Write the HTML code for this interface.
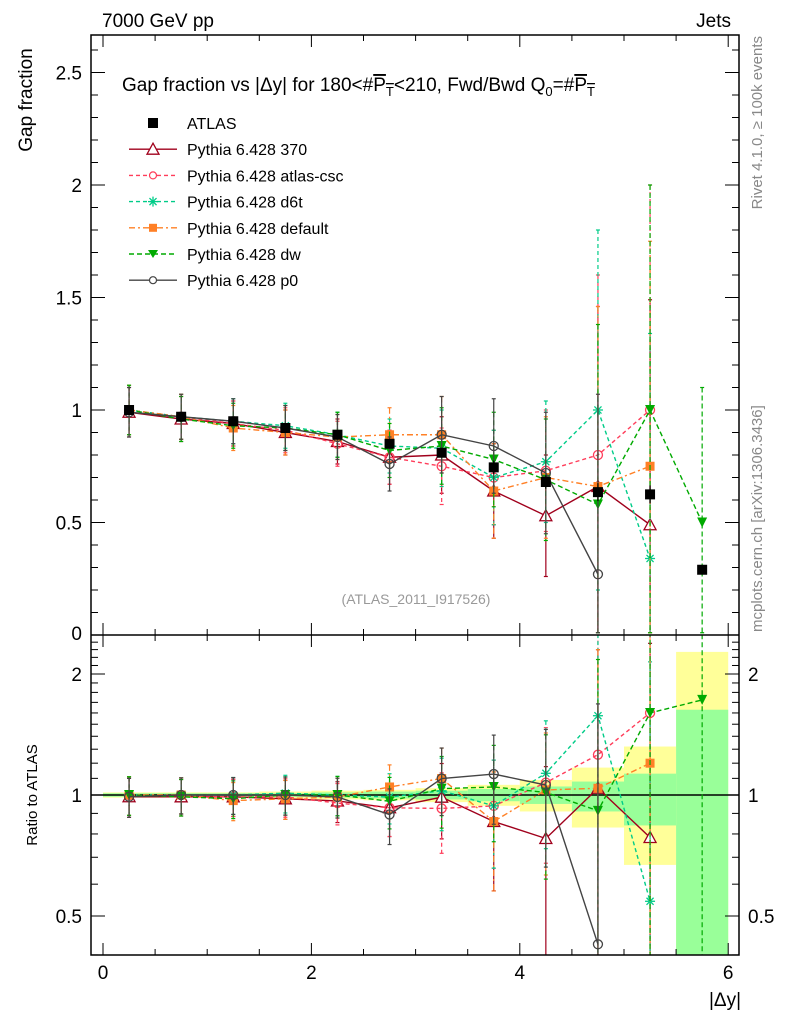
<!DOCTYPE html>
<html><head><meta charset="utf-8"><style>
html,body{margin:0;padding:0;background:#fff;overflow:hidden;width:786px;height:1024px;}
svg{display:block;font-family:"Liberation Sans",sans-serif;}
</style></head><body>
<svg id="chart" width="786" height="1024" viewBox="0 0 786 1024">
<defs>
<clipPath id="clipMain"><rect x="91" y="35" width="648" height="600"/></clipPath>
<clipPath id="clipRatio"><rect x="91" y="635" width="648" height="320"/></clipPath>
</defs>
<g id="bands" clip-path="url(#clipRatio)"></g>
<g id="marks"></g>
<g id="axes"></g>
<text x="102" y="27" font-size="19">7000 GeV pp</text>
<text x="731" y="27" font-size="19" text-anchor="end">Jets</text>
<text x="122" y="91" font-size="19">Gap fraction vs |Δy| for 180&lt;#<tspan text-decoration="overline">P<tspan font-size="13" dy="5">T</tspan></tspan><tspan dy="-5">&lt;210, Fwd/Bwd Q</tspan><tspan font-size="13" dy="5">0</tspan><tspan dy="-5">=#</tspan><tspan text-decoration="overline">P<tspan font-size="13" dy="5">T</tspan></tspan></text>
<text transform="translate(32,100) rotate(-90)" font-size="19" text-anchor="middle">Gap fraction</text>
<text transform="translate(37,795) rotate(-90)" font-size="15" text-anchor="middle">Ratio to ATLAS</text>
<text x="741" y="1006" font-size="19" text-anchor="end">|Δy|</text>
<text transform="translate(762,36) rotate(-90)" font-size="15" fill="#888" text-anchor="end">Rivet 4.1.0, ≥ 100k events</text>
<text transform="translate(762,632) rotate(-90)" font-size="15" fill="#888">mcplots.cern.ch [arXiv:1306.3436]</text>
<text x="416" y="604" font-size="14" fill="#999" text-anchor="middle">(ATLAS_2011_I917526)</text>
<g id="legend"></g>
</svg>
<script>
const xCenters=[0.25,0.75,1.25,1.75,2.25,2.75,3.25,3.75,4.25,4.75,5.25,5.75];
const atlasVals=[1.0,0.97,0.95,0.92,0.89,0.85,0.81,0.745,0.68,0.635,0.625,0.29];
const atlasErr=[0.02,0.02,0.02,0.02,0.02,0.02,0.02,0.03,0.03,0.04,0.04,0.02];
const bandYellowLo=[0.985,0.985,0.985,0.98,0.975,0.97,0.96,0.94,0.91,0.83,0.67,0.3];
const bandYellowHi=[1.015,1.015,1.015,1.02,1.025,1.03,1.04,1.06,1.09,1.17,1.32,2.27];
const bandGreenLo=[0.99,0.99,0.99,0.99,0.985,0.98,0.975,0.965,0.95,0.91,0.84,0.3];
const bandGreenHi=[1.01,1.01,1.01,1.01,1.015,1.02,1.025,1.035,1.05,1.08,1.13,1.63];
const v370=[0.99,0.96,0.94,0.90,0.86,0.79,0.80,0.64,0.53,0.66,0.49];
const vCsc=[1.0,0.97,0.94,0.91,0.85,0.79,0.75,0.70,0.73,0.80,1.0];
const vD6t=[1.0,0.97,0.95,0.93,0.89,0.84,0.83,0.70,0.77,1.0,0.34];
const vDef=[1.0,0.97,0.92,0.90,0.88,0.89,0.89,0.64,0.70,0.66,0.75];
const vDw=[1.0,0.96,0.93,0.92,0.89,0.82,0.84,0.78,0.69,0.58,1.0,0.5];
const vP0=[0.99,0.97,0.95,0.92,0.88,0.76,0.89,0.84,0.72,0.27];
const mcErr=[0.11,0.1,0.1,0.1,0.1,0.12,0.17,0.21,0.27,0.8,1.0,0.6];
const xTicks=[0,2,4,6];
const yTicks=[0.5,1,1.5,2,2.5];
const rTicks=[0.5,1,2];

const NS="http://www.w3.org/2000/svg";
const X=v=>103+104.2*v;
const Y=v=>635-225*v;
const R=v=>795-121*Math.log2(Math.max(v,0.01));
function mk(tag,attrs,parent){const e=document.createElementNS(NS,tag);for(const k in attrs)e.setAttribute(k,attrs[k]);parent.appendChild(e);return e;}
const bands=document.getElementById('bands');
const marks=document.getElementById('marks');
const axes=document.getElementById('axes');
const legend=document.getElementById('legend');

xCenters.forEach((c,i)=>{
 let r=mk('rect',{x:X(c-0.25),y:R(bandYellowHi[i]),width:X(0.5)-X(0),height:R(bandYellowLo[i])-R(bandYellowHi[i]),fill:'#ffff99'},bands);
 
 
 let g=mk('rect',{x:X(c-0.25),y:R(bandGreenHi[i]),width:X(0.5)-X(0),height:R(bandGreenLo[i])-R(bandGreenHi[i]),fill:'#99ff99'},bands);
 
 
});
let ln=mk('line',{x1:91,x2:739,y1:R(1),y2:R(1),stroke:'#000','stroke-width':1.5},bands);



function marker(g,type,x,y,color){
 const s=5;
 if(type==='tri') mk('path',{d:`M${x},${y-6}L${x+6},${y+5}L${x-6},${y+5}Z`,fill:'#fff',stroke:color,'stroke-width':1.3},g);
 else if(type==='circ'||type==='ocirc') mk('circle',{cx:x,cy:y,r:4.5,fill:'none',stroke:color,'stroke-width':1.3},g);
 else if(type==='star'){for(let a=0;a<4;a++){const t=a*Math.PI/4;mk('line',{x1:x-s*Math.cos(t),y1:y-s*Math.sin(t),x2:x+s*Math.cos(t),y2:y+s*Math.sin(t),stroke:color,'stroke-width':1.3},g);}}
 else if(type==='sq') mk('rect',{x:x-4.5,y:y-4.5,width:9,height:9,fill:color},g);
 else if(type==='dtri') mk('path',{d:`M${x-5},${y-5}L${x+5},${y-5}L${x},${y+5}Z`,fill:color},g);
}
const series=[
 {name:'370',vals:v370,color:'#a0001c',dash:'',m:'tri'},
 {name:'atlas-csc',vals:vCsc,color:'#ff3d5a',dash:'4,3',m:'circ'},
 {name:'d6t',vals:vD6t,color:'#00cc88',dash:'4,3',m:'star'},
 {name:'default',vals:vDef,color:'#ff8026',dash:'6,3,2,3',m:'sq'},
 {name:'dw',vals:vDw,color:'#00aa00',dash:'5,3',m:'dtri'},
 {name:'p0',vals:vP0,color:'#444',dash:'',m:'ocirc'}
];
function drawSeries(sr,Yf,clip,ratio){
 const g=mk('g',{'clip-path':`url(#${clip})`},marks);
 
 
 const pts=sr.vals.map((v,i)=>{const val=ratio?v/atlasVals[i]:v;return [X(xCenters[i]),Yf(val),val,i];});
 pts.forEach(p=>{const e=mcErr[p[3]]*(ratio?1/atlasVals[p[3]]:1);const y1=Yf(p[2]+e),y2=Yf(Math.max(p[2]-e,0.01));
  mk('line',{x1:p[0],x2:p[0],y1:y1,y2:y2,stroke:sr.color,'stroke-width':1.2,'stroke-dasharray':sr.dash},g);
  mk('line',{x1:p[0]-2,x2:p[0]+2,y1:y1,y2:y1,stroke:sr.color,'stroke-width':1.2},g);
  mk('line',{x1:p[0]-2,x2:p[0]+2,y1:y2,y2:y2,stroke:sr.color,'stroke-width':1.2},g);});
 mk('polyline',{points:pts.map(p=>p[0]+','+p[1]).join(' '),fill:'none',stroke:sr.color,'stroke-width':1.4,'stroke-dasharray':sr.dash},g);
 pts.forEach(p=>marker(g,sr.m,p[0],p[1],sr.color));
}
series.forEach(s=>drawSeries(s,Y,'clipMain',false));
series.forEach(s=>drawSeries(s,R,'clipRatio',true));
const ag=mk('g',{'clip-path':'url(#clipMain)'},marks);


atlasVals.forEach((v,i)=>{const x=X(xCenters[i]);
 mk('line',{x1:x,x2:x,y1:Y(v+atlasErr[i]),y2:Y(v-atlasErr[i]),stroke:'#000','stroke-width':1.2},ag);
 mk('rect',{x:x-5,y:Y(v)-5,width:10,height:10,fill:'#000'},ag);});

mk('rect',{x:91,y:35,width:648,height:920,fill:'none',stroke:'#000','stroke-width':1.5},axes);
mk('line',{x1:91,x2:739,y1:635,y2:635,stroke:'#000','stroke-width':1.5},axes);
for(let v=0;v<=6.01;v+=0.5){const big=Math.abs(v%2)<1e-6;const x=X(v);
 [[35,1],[635,-1],[635,1],[955,-1]].forEach(([y0,d])=>mk('line',{x1:x,x2:x,y1:y0,y2:y0+d*(big?12:6),stroke:'#000','stroke-width':1},axes));}
xTicks.forEach(v=>{const t=mk('text',{x:X(v),y:979,'font-size':19,'text-anchor':'middle'},axes);t.textContent=v;
 
 });
for(let v=0.1;v<2.65;v+=0.1){const y=Y(v);const big=Math.abs((v*2)-Math.round(v*2))<1e-6;
 mk('line',{x1:91,x2:91+(big?14:7),y1:y,y2:y,stroke:'#000'},axes);mk('line',{x1:739,x2:739-(big?14:7),y1:y,y2:y,stroke:'#000'},axes);}
yTicks.forEach(v=>{const t=mk('text',{x:82,y:Y(v)+7,'font-size':19,'text-anchor':'end'},axes);t.textContent=v;
 
 });
const t0=mk('text',{x:82,y:640,'font-size':19,'text-anchor':'end'},axes);t0.textContent='0';
[0.4,0.5,0.6,0.7,0.8,0.9,1,1.1,1.2,1.3,1.4,1.5,1.6,1.7,1.8,1.9,2,2.1,2.2,2.3,2.4].forEach(v=>{const y=R(v);const big=(v===0.5||v===1||v===2);
 mk('line',{x1:91,x2:91+(big?14:7),y1:y,y2:y,stroke:'#000'},axes);mk('line',{x1:739,x2:739-(big?14:7),y1:y,y2:y,stroke:'#000'},axes);});
rTicks.forEach(v=>{[[82,'end'],[748,'start']].forEach(([x,a])=>{const t=mk('text',{x:x,y:R(v)+7,'font-size':19,'text-anchor':a},axes);t.textContent=v;
 
 });});

const lrows=[{label:'ATLAS',color:'#000',m:'sq',dash:null}].concat(series.map(s=>({label:'Pythia 6.428 '+s.name,color:s.color,m:s.m,dash:s.dash})));
lrows.forEach((r,i)=>{const y=123+26.2*i;const g=mk('g',{},legend);
 
 
 if(r.dash!==null) mk('line',{x1:129,x2:177,y1:y,y2:y,stroke:r.color,'stroke-width':1.4,'stroke-dasharray':r.dash},g);
 if(i===0) mk('rect',{x:148,y:y-5,width:10,height:10,fill:'#000'},g);
 else if(r.m==='sq') mk('rect',{x:149,y:y-4,width:8,height:8,fill:r.color},g);
 else if(r.m==='tri') marker(g,'tri',153,y,r.color);
 else if(r.m==='star') marker(g,'star',153,y,r.color);
 else if(r.m==='dtri') mk('path',{d:`M${148},${y-4}L${158},${y-4}L${153},${y+4}Z`,fill:r.color},g);
 else mk('circle',{cx:153,cy:y,r:3.5,fill:'#fff',stroke:r.color,'stroke-width':1.2},g);
 const t=mk('text',{x:187,y:y+6,'font-size':16},g);t.textContent=r.label;});
</script>
</body></html>
